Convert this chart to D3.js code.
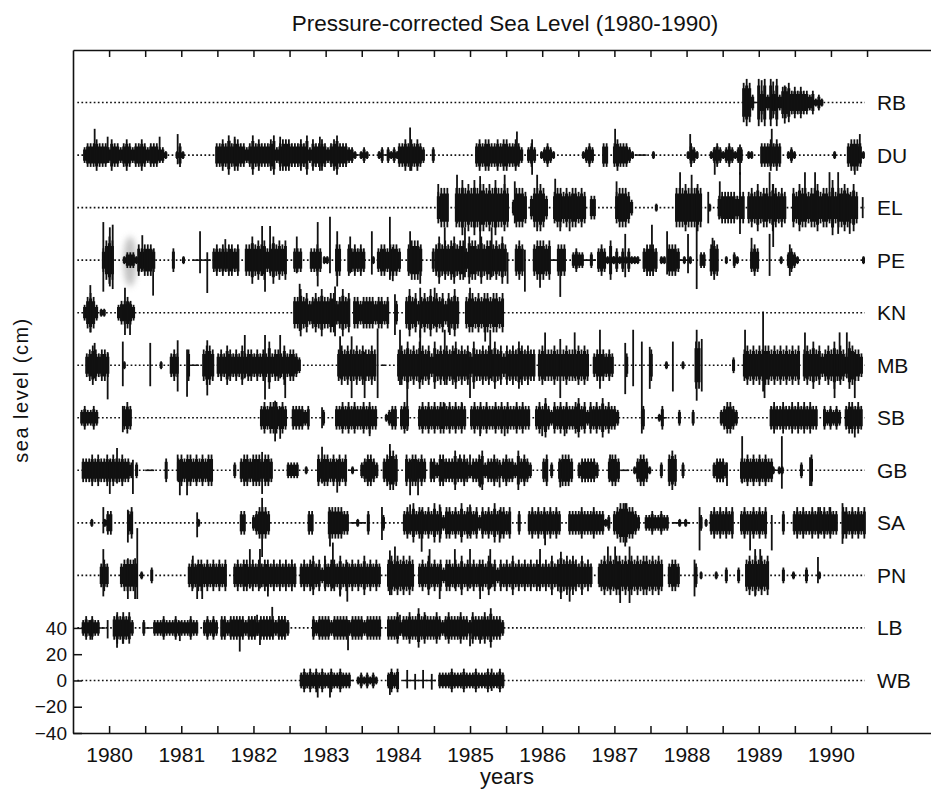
<!DOCTYPE html>
<html>
<head>
<meta charset="utf-8">
<script src="https://cdn.jsdelivr.net/npm/d3@7"></script>
<style>
  body { margin: 0; background: #fff; }
  text { font-family: "Liberation Sans", Arial, sans-serif; fill: #111; }
</style>
</head>
<body>
<svg id="chart" width="931" height="791"></svg>
<script>
// Stations, top to bottom, and the offset (cm) each trace is shifted by.
const stationNames = ["RB", "DU", "EL", "PE", "KN", "MB", "SB", "GB", "SA", "PN", "LB", "WB"];
const stationOffsets = [440, 400, 360, 320, 280, 240, 200, 160, 120, 80, 40, 0];

const yearLabels = [1980, 1981, 1982, 1983, 1984, 1985, 1986, 1987, 1988, 1989, 1990];
const halfYearTicks = [1980.5, 1981, 1981.5, 1982, 1982.5, 1983, 1983.5, 1984, 1984.5, 1985, 1985.5,
  1986, 1986.5, 1987, 1987.5, 1988, 1988.5, 1989, 1989.5, 1990, 1990.5, 1991];
const levelTicks = [-40, -20, 0, 20, 40];

// Each record: [start year, half-month envelope string].
// One character per 1/24 year: digit d = half-range of d x 3 cm, "0" = flat record, "." = gap.
const RB = [[1989.27, "565206362636244534343323121"]];
const DU = [
  [1980.14, "2333433324332343233432333221"], [1981.42, "131"],
  [1981.97, "334353443323534333452344433343524334323453332210121"],
  [1984.22, "1202121"], [1984.50, "334343432"], [1984.97, "2"], [1985.57, "3434433434433432"],
  [1986.29, "232"], [1986.47, "12321"], [1987.05, "1232"], [1987.33, "33"], [1987.48, "3433321"],
  [1987.78, "0000"], [1988.02, "1"], [1988.50, "1321"], [1988.82, "12321232122"], [1989.34, "11"],
  [1989.52, "3334343"], [1989.89, "121"], [1990.53, "1"], [1990.72, "344431"]
];
const EL = [
  [1985.04, "4555"], [1985.29, "557565756656575565"], [1986.08, "25554"], [1986.33, "355653"],
  [1986.65, "45545455454"], [1987.16, "33"], [1987.51, "455542"], [1988.06, "1"],
  [1988.34, "555655565"], [1988.80, "1"], [1988.93, "344444344"], [1989.34, "4546455465454"],
  [1989.96, "5465545564554745565464"]
];
const PE = [
  [1980.40, "3565"], [1980.69, "12221"], [1980.89, "434443"], [1981.37, "3"], [1981.51, "1"],
  [1981.66, "000000"], [1981.93, "343434434"], [1982.38, "44645453464545"], [1983.05, "333"],
  [1983.28, "3343"], [1983.46, "11"], [1983.63, "44"], [1983.80, "434343"], [1984.14, "1"],
  [1984.21, "34434443"], [1984.63, "45554"], [1984.97, "3"], [1985.01, "464545645536554645545464"],
  [1986.12, "454"], [1986.37, "45554500444"], [1986.91, "23220020"], [1987.26, "343151"],
  [1987.47, "131313111"], [1987.89, "34443"], [1988.13, "11"], [1988.24, "44430101"],
  [1988.68, "22"], [1988.82, "454"], [1989.03, "1"], [1989.14, "21"], [1989.38, "343"],
  [1989.79, "1"], [1989.89, "2321"], [1990.93, "1"]
];
const KN = [
  [1980.14, "24542"], [1980.37, "11"], [1980.61, "233432"], [1983.05, "4464534546445534645"],
  [1983.88, "443444434434"], [1984.46, "3"], [1984.60, "464534546454535464"], [1985.43, "4554545545545"]
];
const MB = [
  [1980.17, "34543443"], [1980.69, "1"], [1981.20, "1"], [1981.34, "343"], [1981.58, "4000"],
  [1981.79, "4554"], [1981.99, "3435434353443434363443534432"], [1983.66, "4545445454454"],
  [1984.28, "0"], [1984.49, "4546454654536454545645453644545464535454654544"],
  [1986.44, "45444544454445454"], [1987.20, "3444343"], [1987.65, "3"], [1987.99, "4"],
  [1988.20, "1"], [1988.43, "1"], [1988.61, "66"], [1989.13, "2"], [1989.28, "4545454554545454545"],
  [1990.11, "45464534546454365443"]
];
const SB = [
  [1980.10, "232232"], [1980.69, "343"], [1982.59, "343444343"], [1983.03, "333323"], [1983.45, "2"],
  [1983.63, "33434343343433"], [1984.32, "1233"], [1984.53, "343"], [1984.78, "3434343443434343"],
  [1985.50, "34343433434343343433"], [1986.40, "3435324343433453424343534332"], [1987.88, "3"],
  [1988.06, "0130"], [1988.38, "2"], [1988.57, "2"], [1988.96, "234432"],
  [1989.65, "3433433434343433"], [1990.39, "323232"], [1990.69, "344343"]
];
const GB = [
  [1980.12, "33343433434334332"], [1980.86, "2"], [1981.00, "000"], [1981.27, "3"],
  [1981.44, "343443434344"], [1982.22, "2"], [1982.31, "34434443443"], [1982.96, "2222"],
  [1983.21, "1"], [1983.38, "4344343434"], [1983.81, "010"], [1983.98, "234432"], [1984.29, "34554"],
  [1984.60, "4344343"], [1984.94, "3324433353343233452334323433253432"], [1986.50, "34"],
  [1986.61, "2"], [1986.72, "34443"], [1986.99, "2333332"], [1987.41, "3443"], [1987.58, "000"],
  [1987.76, "134431"], [1988.13, "2"], [1988.24, "454"], [1988.43, "2"], [1988.86, "23332"],
  [1989.24, "33434343433"], [1989.68, "1011"], [1990.07, "2"], [1990.21, "4"]
];
const SA = [
  [1980.24, "1"], [1980.42, "133"], [1980.75, "34"], [1981.72, "1"], [1982.31, "33"],
  [1982.48, "234443"], [1983.25, "33"], [1983.53, "4444433"], [1983.84, "00100"], [1984.07, "3"],
  [1984.28, "2"], [1984.57, "343534434353424434353443424343534434"], [1986.16, "3"],
  [1986.30, "34343434343"], [1986.86, "33334333433312"], [1987.48, "345554432"],
  [1987.92, "22322322"], [1988.30, "001010"], [1988.68, "2"], [1988.75, "1"], [1988.82, "34343434"],
  [1989.24, "343343434"], [1989.82, "3"], [1989.97, "343433434343433"], [1990.65, "44343434"]
];
const PN = [
  [1980.37, "343"], [1980.65, "344443"], [1980.93, "1"], [1981.07, "2"], [1981.59, "3434434343434"],
  [1982.22, "343443434344343434343"], [1983.14, "343453424344353434343534343"],
  [1984.35, "454545454"],
  [1984.78, "3435343424434353434344353424343534343434434353464545435343"],
  [1987.27, "3"], [1987.30, "454545545454545545454"], [1988.24, "3443"], [1988.61, "3"],
  [1988.68, "1"], [1988.89, "1"], [1989.03, "2"], [1989.20, "2"], [1989.31, "45454545"],
  [1989.82, "2"], [1989.96, "1"], [1990.14, "2"], [1990.32, "1"]
];
const LB = [
  [1980.12, "23232200"], [1980.55, "3434342"], [1980.96, "200"], [1981.11, "222322232222322"],
  [1981.80, "23232"], [1982.04, "33233333233323333323332"], [1983.31, "32333323333323333233333"],
  [1984.35, "333423343353433343234333433243334353332"]
];
const WB = [
  [1983.14, "232323232232232220"], [1983.93, "1212121"], [1984.35, "2323"],
  [1984.57, "00000000000"], [1985.06, "2222322232223222322232"]
];

// Isolated extremes: [year, lowest cm, highest cm] relative to the station's offset.
const RB_spikes = [[1989.54, -15, 17], [1989.70, -12, 16], [1989.86, -16, 13]];
const DU_spikes = [[1980.30, -5, 20], [1980.48, -6, 14], [1981.20, -5, 14], [1981.45, -7, 16],
  [1982.17, -6, 11], [1982.24, -7, 14], [1982.87, -12, 14], [1983.42, -12, 14], [1984.67, -12, 21],
  [1986.15, -8, 18], [1986.36, -15, 12], [1987.51, -6, 20], [1988.55, -4, 16], [1988.89, -15, 6],
  [1989.24, -15, 8], [1989.68, -6, 20], [1990.83, -15, 8], [1990.90, -5, 16]];
const EL_spikes = [[1985.06, -5, 18], [1985.32, -12, 25], [1985.64, -18, 24], [1985.98, -10, 25],
  [1986.12, -12, 20], [1986.43, -18, 25], [1986.68, -10, 22], [1986.75, -18, 10], [1986.88, -18, 10],
  [1987.53, -8, 20], [1988.41, -8, 27], [1988.57, -10, 25], [1988.64, -62, 15], [1988.80, -12, 12],
  [1988.96, -8, 20], [1989.24, -20, 27], [1989.70, -30, 18], [1989.65, -10, 27], [1990.14, -10, 27],
  [1990.28, -8, 27], [1990.48, -10, 27], [1990.60, -20, 27], [1990.76, -20, 10], [1990.94, -8, 8]];
const PE_spikes = [[1980.42, -24, 29], [1980.51, -20, 25], [1980.55, -22, 27], [1980.96, -8, 19],
  [1981.11, -27, 8], [1981.76, -10, 22], [1981.86, -25, 6], [1982.11, -8, 16], [1982.62, -12, 26],
  [1982.66, -24, 10], [1982.73, -10, 26], [1983.10, -10, 18], [1983.39, -20, 29], [1983.56, -10, 33],
  [1983.66, -20, 22], [1983.84, -10, 18], [1984.14, -11, 22], [1984.39, -15, 33], [1984.43, -16, 10],
  [1984.67, -10, 22], [1984.81, -18, 10], [1985.15, -10, 25], [1985.43, -13, 25], [1985.64, -8, 25],
  [1985.80, -13, 25], [1986.02, -18, 6], [1986.26, -24, 8], [1986.47, -21, 10], [1986.75, -28, 8],
  [1987.65, -13, 20], [1988.02, -8, 27], [1988.23, -11, 22], [1988.52, -10, 20], [1988.86, -6, 17],
  [1989.40, -6, 17], [1989.65, -12, 20], [1989.93, -12, 12]];
const KN_spikes = [[1980.24, -15, 21], [1980.72, -17, 19], [1980.79, -17, 8], [1983.14, -14, 22],
  [1983.63, -18, 20], [1984.46, -17, 14], [1984.81, -19, 19], [1985.01, -10, 19], [1985.50, -8, 19],
  [1985.71, -22, 10], [1985.22, -17, 10]];
const MB_spikes = [[1980.30, -10, 17], [1980.48, -26, 10], [1980.69, -16, 18], [1981.07, -16, 17],
  [1981.45, -20, 19], [1981.58, -24, 12], [1981.86, -23, 19], [1982.38, -10, 23], [1982.66, -26, 23],
  [1982.87, -10, 23], [1982.94, -25, 8], [1983.70, -10, 22], [1983.86, -25, 22], [1984.04, -25, 10],
  [1984.22, -25, 28], [1984.53, -15, 27], [1984.63, -35, 10], [1984.81, -10, 27], [1985.15, -15, 27],
  [1985.78, -10, 27], [1985.50, -25, 10], [1986.54, -12, 25], [1986.75, -25, 20], [1986.95, -10, 25],
  [1987.30, -18, 27], [1987.65, -22, 17], [1987.76, -16, 27], [1987.88, -45, 18], [1987.99, -18, 14],
  [1988.31, -20, 18], [1988.64, -27, 27], [1988.71, -20, 20], [1989.31, -10, 27], [1989.56, -20, 41],
  [1989.58, -25, 10], [1990.14, -10, 25], [1990.55, -25, 10], [1990.62, -12, 25], [1990.72, -10, 25],
  [1990.83, -25, 10]];
const SB_spikes = [[1980.69, -11, 9], [1982.80, -18, 13], [1982.87, -16, 8], [1983.45, -8, 8],
  [1984.11, -14, 6], [1984.63, -10, 9], [1985.15, -6, 11], [1985.39, -6, 11], [1985.64, -14, 6],
  [1985.98, -14, 6], [1986.50, -14, 6], [1986.81, -14, 6], [1987.88, -12, 5], [1989.72, -9, 6],
  [1990.83, -15, 6]];
const GB_spikes = [[1980.61, -10, 17], [1980.51, -18, 8], [1980.83, -18, 8], [1981.45, -8, 12],
  [1981.48, -19, 8], [1981.58, -19, 8], [1982.62, -18, 14], [1983.45, -10, 18], [1983.66, -17, 8],
  [1984.39, -10, 20], [1984.67, -19, 8], [1984.78, -19, 8], [1985.36, -6, 12], [1985.50, -6, 12],
  [1985.64, -13, 8], [1985.91, -13, 8], [1986.75, -13, 8], [1987.44, -8, 12], [1989.27, -10, 26],
  [1989.82, -14, 26], [1990.21, -12, 10], [1989.06, -12, 6]];
const SA_spikes = [[1980.42, -8, 12], [1980.76, -15, 10], [1981.72, -11, 8], [1982.62, -26, 19],
  [1983.56, -18, 10], [1984.28, -13, 12], [1984.67, -8, 14], [1984.83, -22, 10], [1985.08, -15, 14],
  [1985.50, -10, 14], [1985.91, -15, 10], [1986.54, -17, 8], [1987.65, -18, 15], [1988.68, -21, 12],
  [1989.38, -21, 6], [1989.68, -21, 6], [1990.35, -8, 12], [1990.48, -8, 12], [1990.66, -16, 15]];
const PN_spikes = [[1980.42, -16, 20], [1980.76, -18, 13], [1980.86, -18, 13], [1980.89, -18, 36],
  [1981.66, -10, 15], [1981.72, -18, 8], [1981.79, -18, 8], [1982.45, -10, 20], [1982.59, -10, 20],
  [1982.70, -16, 8], [1983.49, -10, 15], [1983.60, -10, 25], [1983.70, -16, 10], [1983.80, -20, 10],
  [1984.39, -15, 19], [1984.46, -10, 22], [1984.94, -10, 20], [1985.08, -18, 8], [1985.29, -10, 20],
  [1985.50, -10, 20], [1985.64, -18, 8], [1985.78, -10, 20], [1986.47, -10, 20], [1986.88, -20, 8],
  [1987.41, -10, 22], [1987.51, -10, 22], [1987.58, -21, 10], [1987.71, -21, 22], [1988.61, -16, 12],
  [1989.45, -16, 20], [1989.52, -10, 20], [1990.32, -6, 14]];
const LB_spikes = [[1980.24, -9, 6], [1980.48, -8, 6], [1980.61, -15, 10], [1980.69, -12, 8],
  [1981.48, -10, 5], [1982.31, -18, 6], [1982.55, -6, 10], [1982.59, -13, 6], [1982.76, -6, 16],
  [1983.81, -17, 6], [1984.53, -6, 10], [1984.88, -6, 10], [1985.50, -14, 6], [1985.64, -12, 6]];
const WB_spikes = [[1983.21, -6, 6], [1983.39, -13, 4], [1983.56, -13, 4], [1984.39, -11, 5],
  [1984.63, -6, 8], [1984.74, -7, 5], [1984.85, -6, 8], [1984.97, -7, 5], [1985.80, -8, 9],
  [1985.91, -6, 7]];

// Faint smear on the PE record early in 1980: [station, from, to, low cm, high cm].
const smear = [["PE", 1980.70, 1980.88, -20, 18]];

const records = { RB, DU, EL, PE, KN, MB, SB, GB, SA, PN, LB, WB };
const spikes = { RB: RB_spikes, DU: DU_spikes, EL: EL_spikes, PE: PE_spikes, KN: KN_spikes,
  MB: MB_spikes, SB: SB_spikes, GB: GB_spikes, SA: SA_spikes, PN: PN_spikes, LB: LB_spikes, WB: WB_spikes };

const BIN = 1 / 24;
const AMP_UNIT = 3.0;
const CORE = 0.72;          // share of each half-month range drawn as the solid core
const TRACE_START = 1980.06, TRACE_END = 1990.97;

const svg = d3.select("#chart");
const margin = { left: 73, top: 50, bottom: 58 };
const W = 931, H = 791;

const x = d3.scaleLinear().domain([1980, 1991.886]).range([margin.left, W]);
const y = d3.scaleLinear().domain([-40, 480]).range([H - margin.bottom, margin.top]);

const ink = "#111";

svg.append("defs").append("filter").attr("id", "soft")
  .attr("x", "-80%").attr("y", "-50%").attr("width", "260%").attr("height", "200%")
  .append("feGaussianBlur").attr("stdDeviation", 3.2);

const plot = svg.append("g");

smear.forEach(([name, t0, t1, lo, hi]) => {
  const base = stationOffsets[stationNames.indexOf(name)];
  plot.append("ellipse")
    .attr("cx", x((t0 + t1) / 2)).attr("cy", y(base + (lo + hi) / 2))
    .attr("rx", (x(t1) - x(t0)) / 2).attr("ry", (y(base + lo) - y(base + hi)) / 2)
    .attr("fill", "#999").attr("opacity", 0.6).attr("filter", "url(#soft)");
});

stationNames.forEach((name, si) => {
  const base = stationOffsets[si];
  const g = plot.append("g");

  // dotted zero line of the station
  g.append("line")
    .attr("x1", x(TRACE_START)).attr("x2", x(TRACE_END))
    .attr("y1", y(base)).attr("y2", y(base))
    .attr("stroke", ink).attr("stroke-width", 1.6).attr("stroke-dasharray", "1.7,2.4");

  const segments = records[name].map(([t0, s]) => {
    const pts = Array.from(s).map((c, k) => ({
      t: t0 + k * BIN,
      a: c === "." ? null : (c === "0" ? 0.6 : (+c) * AMP_UNIT)
    }));
    const last = pts[pts.length - 1];
    pts.push({ t: t0 + s.length * BIN, a: last.a });
    return pts;
  });

  // solid core of each record
  const core = d3.area()
    .defined(d => d.a !== null)
    .x(d => x(d.t))
    .y0(d => y(base - Math.max(d.a * CORE, 0.6)))
    .y1(d => y(base + Math.max(d.a * CORE, 0.6)))
    .curve(d3.curveStepAfter);
  g.selectAll("path.core").data(segments).join("path")
    .attr("class", "core").attr("d", core).attr("fill", ink);

  // full half-month range as fine strokes
  const hairs = segments.flatMap(pts => pts.slice(0, -1).filter(d => d.a !== null && d.a > 1));
  g.selectAll("line.hair").data(hairs).join("line")
    .attr("class", "hair")
    .attr("x1", d => x(d.t + BIN / 2)).attr("x2", d => x(d.t + BIN / 2))
    .attr("y1", d => y(base + d.a)).attr("y2", d => y(base - d.a))
    .attr("stroke", ink).attr("stroke-width", 1.8);

  g.selectAll("line.spike").data(spikes[name]).join("line")
    .attr("class", "spike")
    .attr("x1", d => x(d[0])).attr("x2", d => x(d[0]))
    .attr("y1", d => y(base + d[2])).attr("y2", d => y(base + d[1]))
    .attr("stroke", ink).attr("stroke-width", 1.8);

  g.append("text")
    .attr("x", x(TRACE_END) + 12).attr("y", y(base)).attr("dy", "0.36em")
    .attr("font-size", 21).text(name);
});

// Frame: top edge with half-year ticks pointing down
const topAxis = svg.append("g").attr("transform", `translate(0,${margin.top})`)
  .call(d3.axisTop(x).tickValues(halfYearTicks).tickSizeInner(-7).tickSizeOuter(0).tickFormat(""));
// Bottom edge with half-year ticks pointing up
const bottomAxis = svg.append("g").attr("transform", `translate(0,${H - margin.bottom})`)
  .call(d3.axisBottom(x).tickValues(halfYearTicks).tickSizeInner(-7).tickSizeOuter(0).tickFormat(""));
// Year labels centred in each year
const yearAxis = svg.append("g").attr("transform", `translate(0,${H - margin.bottom})`)
  .call(d3.axisBottom(x).tickValues(yearLabels.map(v => v + 0.5)).tickSize(0).tickPadding(14)
    .tickFormat((d, i) => yearLabels[i]));
yearAxis.select(".domain").remove();
yearAxis.selectAll("text").attr("font-size", 21).attr("font-family", null);

// Left edge with the sea-level scale
const leftAxis = svg.append("g").attr("transform", `translate(${margin.left},0)`)
  .call(d3.axisLeft(y).tickValues(levelTicks).tickSizeInner(-9).tickSizeOuter(0).tickPadding(6));
leftAxis.selectAll("text").attr("font-size", 19).attr("font-family", null);

[topAxis, bottomAxis, leftAxis].forEach(a => {
  a.select(".domain").attr("stroke", ink).attr("stroke-width", 1.6);
  a.selectAll(".tick line").attr("stroke", ink).attr("stroke-width", 1.5);
});

// Titles
svg.append("text").attr("x", 505).attr("y", 31).attr("text-anchor", "middle")
  .attr("font-size", 22.5).text("Pressure-corrected Sea Level (1980-1990)");
svg.append("text").attr("x", 507).attr("y", 784).attr("text-anchor", "middle")
  .attr("font-size", 22).text("years");
svg.append("text").attr("transform", "translate(28,390) rotate(-90)").attr("text-anchor", "middle")
  .attr("font-size", 20).attr("letter-spacing", 1.5).text("sea level (cm)");
</script>
</body>
</html>
